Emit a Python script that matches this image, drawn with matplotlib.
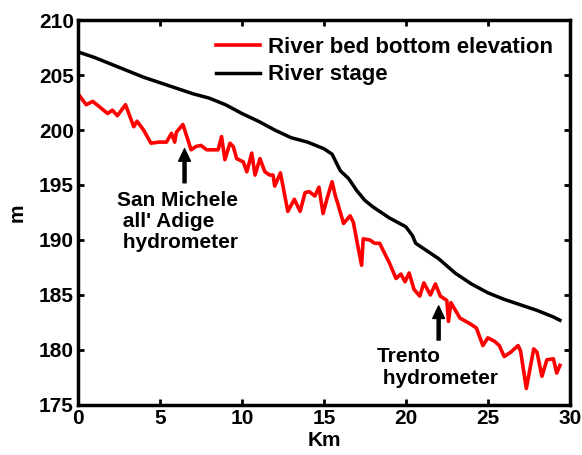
import numpy as np
import matplotlib
matplotlib.use('Agg')
import matplotlib.pyplot as plt

plt.rcParams['font.family'] = ['Liberation Sans', 'DejaVu Sans']
plt.rcParams['font.weight'] = 'bold'

# river bed bottom elevation (km, m)
bed_km = [0.0, 0.5, 0.9, 1.4, 1.8, 2.1, 2.4, 2.9, 3.4, 3.6, 4.0, 4.45, 4.96, 5.4,
          5.7, 5.9, 6.0, 6.4, 6.9, 7.2, 7.5, 7.85, 8.25, 8.55, 8.76, 8.96, 9.27,
          9.47, 9.68, 10.08, 10.3, 10.6, 10.8, 11.1, 11.4, 11.7, 11.9, 12.0, 12.35,
          12.8, 13.2, 13.55, 13.85, 14.1, 14.45, 14.7, 14.95, 15.2, 15.5, 15.7,
          15.85, 16.2, 16.6, 16.8, 17.0, 17.3, 17.4, 17.8, 18.1, 18.4, 18.7, 19.0,
          19.4, 19.7, 19.95, 20.2, 20.5, 20.85, 21.1, 21.5, 21.8, 22.1, 22.5, 22.6,
          22.75, 23.3, 23.9, 24.3, 24.7, 25.0, 25.4, 25.7, 26.0, 26.4, 26.85, 27.0,
          27.35, 27.8, 28.0, 28.3, 28.6, 29.0, 29.2, 29.4]
bed_m = [203.3, 202.3, 202.6, 202.0, 201.5, 201.8, 201.3, 202.3, 200.3, 200.8, 200.0,
         198.8, 198.9, 198.9, 199.7, 198.9, 199.8, 200.5, 198.2, 198.5, 198.6, 198.2,
         198.2, 198.2, 199.4, 197.3, 198.8, 198.5, 197.4, 197.1, 196.2, 197.9, 195.9,
         197.4, 196.2, 195.9, 195.9, 194.9, 196.1, 192.6, 193.7, 192.6, 194.3, 194.4,
         194.0, 194.8, 192.4, 193.8, 195.3, 194.0, 193.3, 191.5, 192.2, 191.6, 190.0,
         187.7, 190.1, 190.0, 189.7, 189.7, 188.8, 187.9, 186.5, 186.9, 186.2, 187.0,
         185.5, 184.9, 186.1, 185.0, 186.0, 184.9, 184.5, 182.6, 184.3, 182.9, 182.4,
         182.0, 180.4, 181.1, 180.8, 180.4, 179.4, 179.8, 180.4, 179.9, 176.5, 180.1,
         179.8, 177.6, 179.1, 179.2, 177.9, 178.6]

# river stage
stage_km = [0, 1, 2, 3, 4, 5, 6, 7, 8, 9, 10, 11, 12, 13, 14, 15, 15.5, 16, 16.5,
            17, 17.5, 18, 19, 20, 20.4, 20.6, 21, 22, 23, 24, 25, 26, 27, 28, 29, 29.4]
stage_m = [207.1, 206.6, 206.0, 205.4, 204.8, 204.3, 203.8, 203.3, 202.9, 202.3,
           201.5, 200.8, 200.0, 199.3, 198.9, 198.3, 197.8, 196.3, 195.6, 194.5,
           193.6, 193.0, 192.0, 191.2, 190.4, 189.7, 189.3, 188.3, 187.0, 186.0,
           185.2, 184.6, 184.1, 183.6, 183.0, 182.7]

fig = plt.figure(figsize=(5.82, 4.55), dpi=100)
ax = fig.add_axes([0.134, 0.110, 0.845, 0.846])

ax.plot(bed_km, bed_m, color='#ff0000', lw=2.6, label='River bed bottom elevation')
ax.plot(stage_km, stage_m, color='black', lw=2.5, label='River stage')

ax.set_xlim(0, 30)
ax.set_ylim(175, 210)
ax.set_xticks(np.arange(0, 31, 5))
ax.set_yticks(np.arange(175, 211, 5))
ax.tick_params(direction='in', length=4, width=2, top=True, right=True,
               labelsize=15, pad=3)
for lab in ax.get_xticklabels() + ax.get_yticklabels():
    lab.set_fontweight('bold')
for sp in ax.spines.values():
    sp.set_linewidth(2.5)

ax.set_xlabel('Km', fontsize=15, fontweight='bold', labelpad=2)
ax.set_ylabel('m', fontsize=15, fontweight='bold', labelpad=9)

arrow = dict(facecolor='black', edgecolor='black', width=2.2, headwidth=8.5,
             headlength=9, shrink=0)
ax.annotate('', xy=(6.5, 198.3), xytext=(6.5, 195.2), arrowprops=arrow)
ax.annotate('', xy=(22.0, 184.0), xytext=(22.0, 180.9), arrowprops=arrow)

ax.text(2.38, 191.7, "San Michele\n all' Adige\n hydrometer", fontsize=15,
        fontweight='bold', ha='left', va='center', linespacing=1.15)
ax.text(18.23, 178.4, "Trento\n hydrometer", fontsize=15,
        fontweight='bold', ha='left', va='center', linespacing=1.15)

leg = ax.legend(loc='upper right', frameon=False, fontsize=16, handlelength=2.0,
                handletextpad=0.35, labelspacing=0.3, borderaxespad=0.35,
                borderpad=0.4)
for t in leg.get_texts():
    t.set_fontweight('bold')

fig.savefig('out.png', dpi=100)
